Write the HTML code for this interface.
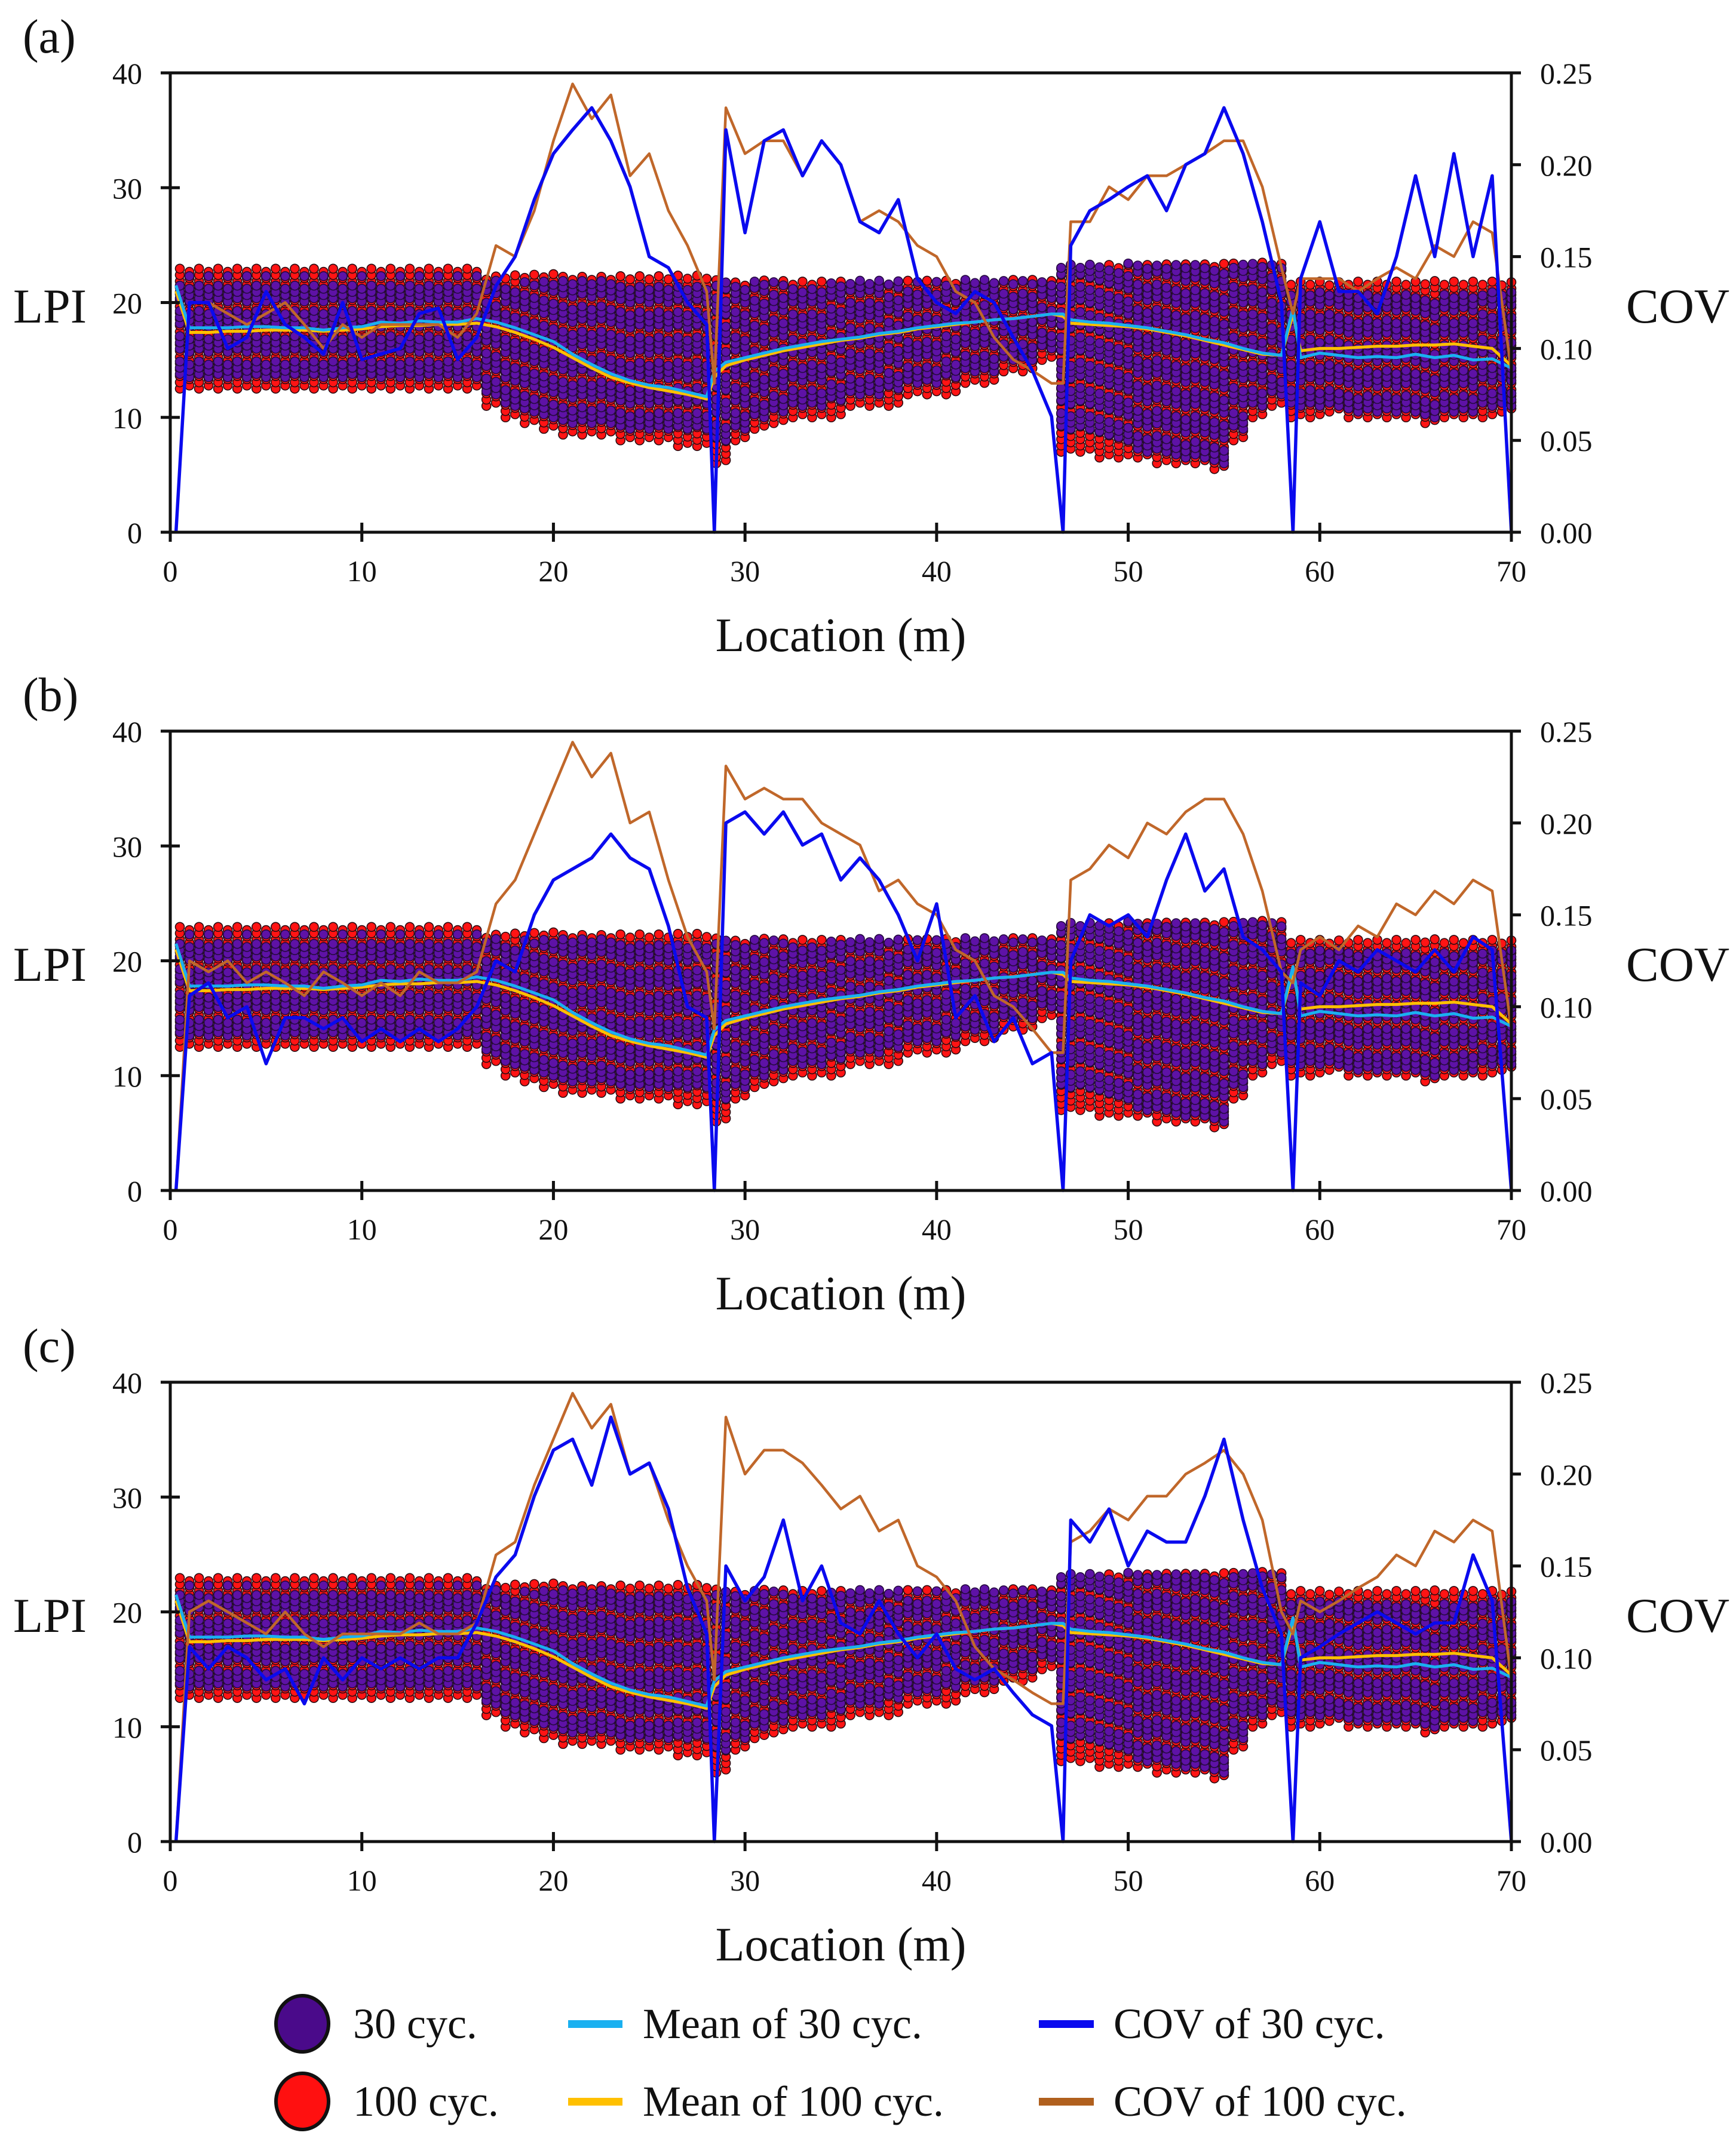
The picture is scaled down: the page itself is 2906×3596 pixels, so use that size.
<!DOCTYPE html>
<html><head><meta charset="utf-8">
<style>
html,body{margin:0;padding:0;background:#fff;}
svg{display:block;}
text{font-family:"Liberation Serif",serif;fill:#111;}
</style></head>
<body>
<svg id="chart" width="2906" height="3596" viewBox="0 0 2906 3596" xmlns="http://www.w3.org/2000/svg">
<g id="panels"></g>
<g id="legend">
  <g>
    <ellipse cx="506" cy="3388" rx="44" ry="47" fill="#4a0a8a" stroke="#111" stroke-width="6"/>
    <text x="591" y="3412" font-size="72">30 cyc.</text>
  </g>
  <g>
    <ellipse cx="506" cy="3518" rx="44" ry="47" fill="#ff1010" stroke="#111" stroke-width="6"/>
    <text x="591" y="3542" font-size="72">100 cyc.</text>
  </g>
  <g>
    <rect x="951" y="3382" width="91" height="13" fill="#1ab0f0"/>
    <text x="1076" y="3412" font-size="72">Mean of 30 cyc.</text>
  </g>
  <g>
    <rect x="951" y="3512" width="91" height="13" fill="#ffc000"/>
    <text x="1076" y="3542" font-size="72">Mean of 100 cyc.</text>
  </g>
  <g>
    <rect x="1739" y="3382" width="92" height="13" fill="#0a0aee"/>
    <text x="1864" y="3412" font-size="72">COV of 30 cyc.</text>
  </g>
  <g>
    <rect x="1739" y="3512" width="92" height="13" fill="#b0601e"/>
    <text x="1864" y="3542" font-size="72">COV of 100 cyc.</text>
  </g>
</g>
</svg>
<script>
// ---- data ----
const panelLabels = ["(a)","(b)","(c)"];
const xTicks = [0,10,20,30,40,50,60,70];
const yTicks = [0,10,20,30,40];
const covTicks = [0,0.05,0.10,0.15,0.20,0.25];
const covTickLabels = ["0.00","0.05","0.10","0.15","0.20","0.25"];

// line sample locations (m)
const lineX = [0.3,1,2,3,4,5,6,7,8,9,10,11,12,13,14,15,16,17,18,19,20,21,22,23,24,25,26,27,28,28.4,
 29,30,31,32,33,34,35,36,37,38,39,40,41,42,43,44,45,46,46.6,
 47,48,49,50,51,52,53,54,55,56,57,58,58.6,
 59,60,61,62,63,64,65,66,67,68,69,70];

const mean30 = [21.5,17.8,17.8,17.8,17.9,17.9,17.8,17.8,17.6,17.8,17.9,18.3,18.2,18.4,18.3,18.3,18.6,
 18.3,17.8,17.2,16.6,15.5,14.6,13.8,13.2,12.8,12.6,12.2,11.8,14,
 14.8,15.2,15.6,16,16.3,16.6,16.8,17,17.3,17.5,17.8,18,18.2,18.3,18.5,18.6,18.8,19,19,
 18.5,18.3,18.2,18,17.8,17.5,17.2,16.8,16.5,16,15.6,15.4,19.5,
 15.2,15.6,15.4,15.2,15.3,15.2,15.5,15.2,15.4,15,15.1,14.3];
const mean100 = [21,17.4,17.4,17.5,17.5,17.6,17.6,17.6,17.5,17.6,17.7,17.9,18,18,18.1,18.1,18.2,
 17.9,17.4,16.8,16.1,15.2,14.3,13.5,13,12.6,12.3,12,11.6,13.5,
 14.5,15,15.4,15.8,16.1,16.4,16.7,16.9,17.2,17.4,17.7,17.9,18.1,18.3,18.5,18.6,18.8,19,18.8,
 18.2,18.1,18,17.9,17.7,17.4,17.1,16.7,16.3,15.9,15.5,15.4,19,
 15.8,16,16,16.1,16.2,16.2,16.3,16.3,16.4,16.2,16,14.5];

// COV values (percent)
const cov30A = [0,12.5,12.5,10,10.6,13.1,11.3,10.6,9.7,12.5,9.4,9.7,10,11.9,12.2,9.4,10.6,
 13.4,15,18.1,20.6,21.9,23.1,21.3,18.8,15,14.4,12.5,11.3,0,
 21.9,16.3,21.3,21.9,19.4,21.3,20,16.9,16.3,18.1,13.8,12.5,11.9,13.1,12.5,10.6,8.8,6.3,0,
 15.6,17.5,18.1,18.8,19.4,17.5,20,20.6,23.1,20.6,16.9,12.5,0,
 13.8,16.9,13.1,13.1,11.9,15,19.4,15,20.6,15,19.4,0];
const cov100A = [0,12.5,12.5,11.9,11.3,11.9,12.5,11.3,10,11.3,10.6,11.3,11.3,11.3,11.3,10.6,11.9,
 15.6,15,17.5,21.3,24.4,22.5,23.8,19.4,20.6,17.5,15.6,13.1,8.1,
 23.1,20.6,21.3,21.3,19.4,21.3,20,16.9,17.5,16.9,15.6,15,13.1,12.5,10.6,9.4,8.8,8.1,8.1,
 16.9,16.9,18.8,18.1,19.4,19.4,20,20.6,21.3,21.3,18.8,14.4,11.9,
 13.8,13.8,13.8,13.1,13.8,14.4,13.8,15.6,15,16.9,16.3,8.8];
const cov30B = [0,10.6,11.3,9.4,10,6.9,9.4,9.4,8.8,9.4,8.1,8.8,8.1,8.8,8.1,8.8,10,
 12.5,11.9,15,16.9,17.5,18.1,19.4,18.1,17.5,14.4,10,9.4,0,
 20,20.6,19.4,20.6,18.8,19.4,16.9,18.1,16.9,15,12.5,15.6,9.4,10.6,8.1,9.4,6.9,7.5,0,
 12.5,15,14.4,15,13.8,16.9,19.4,16.3,17.5,13.8,13.1,11.9,0,
 11.3,10.6,12.5,11.9,13.1,12.5,11.9,13.1,11.9,13.8,13.1,0];
const cov100B = [0,12.5,11.9,12.5,11.3,11.9,11.3,10.6,11.9,11.3,10.6,11.3,10.6,11.9,11.3,11.3,11.9,
 15.6,16.9,19.4,21.9,24.4,22.5,23.8,20,20.6,16.9,13.8,11.9,8.8,
 23.1,21.3,21.9,21.3,21.3,20,19.4,18.8,16.3,16.9,15.6,15,13.1,12.5,10.6,10,8.8,7.5,7.5,
 16.9,17.5,18.8,18.1,20,19.4,20.6,21.3,21.3,19.4,16.3,11.9,11.3,
 13.1,13.8,13.1,14.4,13.8,15.6,15,16.3,15.6,16.9,16.3,8.8];
const cov30C = [0,10.6,9.4,10.6,10,8.8,9.4,7.5,10,8.8,10,9.4,10,9.4,10,10,11.9,
 14.4,15.6,18.8,21.3,21.9,19.4,23.1,20,20.6,18.1,13.8,11.3,0,
 15,13.1,14.4,17.5,13.1,15,11.9,11.3,13.1,11.3,10,11.3,9.4,8.8,9.4,8.1,6.9,6.3,0,
 17.5,16.3,18.1,15,16.9,16.3,16.3,18.8,21.9,17.5,13.8,11.3,0,
 10,10.6,11.3,11.9,12.5,11.9,11.3,11.9,11.9,15.6,13.1,0];
const cov100C = [0,12.5,13.1,12.5,11.9,11.3,12.5,11.3,10.6,11.3,11.3,11.3,11.3,11.9,11.3,11.3,11.9,
 15.6,16.3,19.4,21.9,24.4,22.5,23.8,20,20.6,17.5,15,13.1,8.8,
 23.1,20,21.3,21.3,20.6,19.4,18.1,18.8,16.9,17.5,15,14.4,13.1,10.6,9.4,8.8,8.1,7.5,7.5,
 16.3,16.9,18.1,17.5,18.8,18.8,20,20.6,21.3,20,17.5,12.5,11.3,
 13.1,12.5,13.1,13.8,14.4,15.6,15,16.9,16.3,17.5,16.9,8.8];

// scatter bands per integer location k=1..70 (LPI)
const lo100 = [12.5,12.5,12.5,12.5,12.5,12.5,12.5,12.5,12.5,12.5,12.5,12.5,12.5,12.5,12.5,12.5,
 11,10,9.5,9,8.5,8.5,8.5,8,8,8,7.5,7.5,
 6,8,9,9.5,10,10,10,11,11,11,12,12,12,13,13,14,14,15,
 7,7,6.5,6.5,6.5,6,6,6,5.5,8,10,11,
 10,10,10.5,10,10,10,10,9.5,10,10,10,10.5];
const hi100 = [23,23,23,23,23,23,23,23,23,23,23,23,23,23,23,23,
 22.5,22.5,22.5,22.5,22.5,22.5,22.5,22.5,22.5,22.5,22.5,22.5,
 22,22,22,22,22,22,22,22,22,22,22,22,22,22,22,22,22,22,
 23.5,23.5,23.5,23.5,23.5,23.5,23.5,23.5,23.5,23.5,23.5,23.5,
 22,22,22,22,22,22,22,22,22,22,22,22];
const lo30 = [13.5,13.5,13.5,13.5,13.5,13.5,13.5,13.5,13.5,13.5,13.5,13.5,13.5,13.5,13.5,13.5,
 12,11,10.5,10,9.5,9.5,9.5,9,9,9,9,9,
 8,9,10,10.5,11,11,11.5,12,12,12.5,13,13,13.5,14,14,15,15,16,
 9,9,8.5,8,7,7,6.5,6.5,6,9,11,12,
 11,11,11,10.5,10.5,10.5,10.5,10,10.5,10.5,11,11];
const hi30 = [22.5,22.5,22.5,22.5,22.5,22.5,22.5,22.5,22.5,22.5,22.5,22.5,22.5,22.5,22.5,22.5,
 22,22,22,22,22,22,22,22,22,22,22,22,
 22,22,22,22,22,22,22,22,22,22,22,22,22,22,22,22,22,22,
 23.5,23.5,23.5,23.5,23.5,23.5,23.5,23.5,23.5,23.5,23.5,23.5,
 21,21,21,21,21,21,21,21,21,21,21,21];

const covSets = [[cov30A,cov100A],[cov30B,cov100B],[cov30C,cov100C]];

// ---- layout ----
const NS = "http://www.w3.org/2000/svg";
const L = 285, R = 2530, H = 769;
const tops = [122,1224,2314];
const X = v => L + (R - L) * v / 70;
function mk(tag, attrs, parent){
  const e = document.createElementNS(NS, tag);
  for (const k in attrs) e.setAttribute(k, attrs[k]);
  parent.appendChild(e); return e;
}
const root = document.getElementById('panels');

tops.forEach((top, p) => {
  const Y = v => top + H * (1 - v / 40);
  const YC = c => top + H * (1 - c / 0.25);
  const g = mk('g', {}, root);
  
  

  const lab = mk('text', {x: 38, y: top - 34, 'font-size': 80}, g);
  lab.textContent = panelLabels[p];
  
  

  // scatter
  const sc = mk('g', {}, g);
  
  
  const step = 0.55;
  for (let k = 1; k <= 70; k++) {
    const cols = [k - 0.5, k];
    cols.forEach((cx, ci) => {
      if (cx < 0.5) return;
      const px = X(cx);
      for (let v = lo100[k-1] + (ci ? step/2 : 0); v <= hi100[k-1]; v += step) {
        const c = mk('circle', {cx: px, cy: Y(v), r: 7.5, fill: '#ff1414', stroke: '#2a0a10', 'stroke-width': 1.6}, sc);
        
        
      }
    });
    cols.forEach((cx, ci) => {
      if (cx < 0.5) return;
      const px = X(cx);
      let n = 0;
      for (let v = lo30[k-1] + (ci ? 0 : step/2); v <= hi30[k-1]; v += step, n++) {
        if (n % 4 === 3) continue;
        const c = mk('circle', {cx: px, cy: Y(v), r: 7.5, fill: '#5e12a6', stroke: '#250a40', 'stroke-width': 1.6}, sc);
        
        
      }
    });
  }

  function line(vals, fy, color, w, name){
    const d = vals.map((v,i) => (i ? 'L' : 'M') + X(lineX[i]).toFixed(1) + ',' + fy(v).toFixed(1)).join('');
    const pth = mk('path', {d: d, fill: 'none', stroke: color, 'stroke-width': w, 'stroke-linejoin': 'round'}, g);
    
    
  }
  line(mean100, Y, '#ffc000', 5, 'mean-100-cyc-line');
  line(mean30, Y, '#1ab0f0', 5, 'mean-30-cyc-line');
  line(covSets[p][1], c => YC(c/100), '#c0672a', 4.5, 'cov-100-cyc-line');
  line(covSets[p][0], c => YC(c/100), '#0a0aee', 5.5, 'cov-30-cyc-line');

  // axes
  const ax = mk('g', {stroke: '#111', 'stroke-width': 5, fill: 'none'}, g);
  
  
  mk('path', {d: `M${L},${top}L${L},${top+H}L${R},${top+H}L${R},${top}L${L},${top}`}, ax);
  yTicks.forEach(t => {
    mk('line', {x1: L-16, x2: L+16, y1: Y(t), y2: Y(t)}, ax);
    const tx = mk('text', {x: 238, y: Y(t)+18, 'font-size': 50, 'text-anchor': 'end', stroke: 'none', fill: '#111'}, g);
    tx.textContent = t;
    
    
  });
  xTicks.forEach(t => {
    mk('line', {x1: X(t), x2: X(t), y1: top+H-16, y2: top+H+16}, ax);
    const tx = mk('text', {x: X(t), y: top+H+82, 'font-size': 50, 'text-anchor': 'middle', fill: '#111'}, g);
    tx.textContent = t;
    
    
  });
  covTicks.forEach((t,i) => {
    mk('line', {x1: R-2, x2: R+16, y1: YC(t), y2: YC(t)}, ax);
    const tx = mk('text', {x: 2578, y: YC(t)+18, 'font-size': 50, fill: '#111'}, g);
    tx.textContent = covTickLabels[i];
    
    
  });
  const yl = mk('text', {x: 22, y: top+418, 'font-size': 82}, g);
  yl.textContent = 'LPI';
  
  
  const yr = mk('text', {x: 2722, y: top+418, 'font-size': 82}, g);
  yr.textContent = 'COV';
  
  
  const xl = mk('text', {x: (L+R)/2, y: top+968, 'font-size': 80, 'text-anchor': 'middle'}, g);
  xl.textContent = 'Location (m)';
  
  
});
</script>
</body></html>
